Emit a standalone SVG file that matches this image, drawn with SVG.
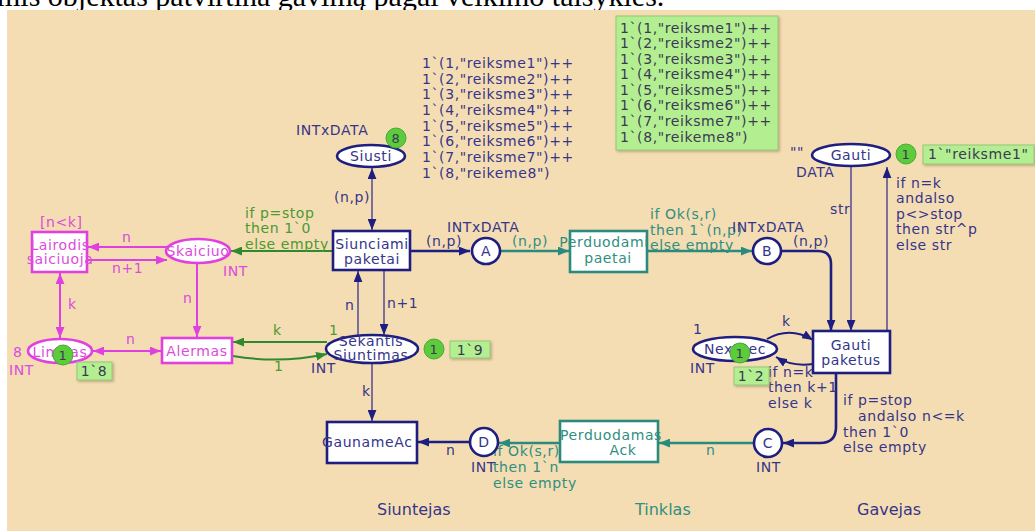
<svg xmlns="http://www.w3.org/2000/svg" width="1035" height="531" viewBox="0 0 1035 531">
<defs>
<style>
.t{font-family:"DejaVu Sans",Verdana,sans-serif;font-size:14px;letter-spacing:0.6px}
.n{fill:#35358a}.tl{fill:#2f8f80}.g{fill:#4a9a30}.m{fill:#dc4cdc}.d{fill:#3a3a55}
.c{text-anchor:middle}
.pn{fill:#fff;stroke:#1e1e80;stroke-width:2.6}
.pt{fill:#fff;stroke:#2a8a7e;stroke-width:2.6}
.pm{fill:#fff;stroke:#e040e0;stroke-width:2.6}
.an{fill:none;stroke:#1e1e80;stroke-width:2.6}
.ap{fill:none;stroke:#7d6d9d;stroke-width:2}
.at{fill:none;stroke:#2a8a7e;stroke-width:2.4}
.ag{fill:none;stroke:#2f8a2f;stroke-width:2}
.am{fill:none;stroke:#e040e0;stroke-width:2}
.tok{fill:#5ccb3c;stroke:#4aa835;stroke-width:1}
.box{fill:#b3ee90;stroke:#94c87a;stroke-width:1}
</style>
<marker id="mN" viewBox="0 0 10 8" refX="10" refY="4" markerWidth="11" markerHeight="9" markerUnits="userSpaceOnUse" orient="auto-start-reverse"><path d="M0,0L10,4L0,8z" fill="#1e1e80"/></marker>
<marker id="mT" viewBox="0 0 10 8" refX="10" refY="4" markerWidth="11" markerHeight="9" markerUnits="userSpaceOnUse" orient="auto-start-reverse"><path d="M0,0L10,4L0,8z" fill="#2a8a7e"/></marker>
<marker id="mG" viewBox="0 0 10 8" refX="10" refY="4" markerWidth="11" markerHeight="9" markerUnits="userSpaceOnUse" orient="auto-start-reverse"><path d="M0,0L10,4L0,8z" fill="#2f8a2f"/></marker>
<marker id="mM" viewBox="0 0 10 8" refX="10" refY="4" markerWidth="11" markerHeight="9" markerUnits="userSpaceOnUse" orient="auto-start-reverse"><path d="M0,0L10,4L0,8z" fill="#e040e0"/></marker>
<filter id="sh" x="-10%" y="-10%" width="130%" height="130%"><feDropShadow dx="1.5" dy="1.5" stdDeviation="1" flood-color="#806a40" flood-opacity="0.45"/></filter>
</defs>
<rect x="0" y="0" width="1035" height="531" fill="#ffffff"/>
<text x="-3" y="6" font-family="Liberation Serif, serif" font-size="30" fill="#000">mis objektas patvirtina gavimą pagal veikimo taisykles.</text>
<rect x="7" y="10" width="1028" height="521" fill="#f5ddb3"/>

<g id="connectors">
<path class="an" d="M410,251H470" marker-end="url(#mN)"/>
<path class="an" d="M782,251H818Q831,251 831,264V331" marker-end="url(#mN)"/>
<path class="an" d="M836,373V427Q836,443 820,443H783" marker-end="url(#mN)"/>
<path class="an" d="M470,442H418" marker-end="url(#mN)"/>
<path class="an" style="stroke-width:2" d="M767,339Q790,326 813,340" marker-end="url(#mN)"/>
<path class="an" style="stroke-width:2" d="M813,364Q792,367 776,357" marker-end="url(#mN)"/>
<path class="ap" d="M372,168V230" marker-start="url(#mN)" marker-end="url(#mN)"/>
<path class="ap" d="M851,167V331" marker-end="url(#mN)"/>
<path class="ap" d="M887,331V167" marker-end="url(#mN)"/>
<path class="ap" d="M358,336V271" marker-end="url(#mN)"/>
<path class="ap" d="M384,270V335" marker-end="url(#mN)"/>
<path class="ap" d="M372,363V421" marker-end="url(#mN)"/>
<path class="at" d="M500,251H569" marker-end="url(#mT)"/>
<path class="at" d="M647,251H752" marker-end="url(#mT)"/>
<path class="at" d="M754,443H659" marker-end="url(#mT)"/>
<path class="at" d="M560,443H499" marker-end="url(#mT)"/>
<path class="ag" d="M333,251H231" marker-end="url(#mG)"/>
<path class="ag" d="M327,342H233" marker-end="url(#mG)"/>
<path class="ag" d="M233,356Q280,364 327,354" marker-end="url(#mG)"/>
<path class="am" d="M167,247H88" marker-end="url(#mM)"/>
<path class="am" d="M88,260H167" marker-end="url(#mM)"/>
<path class="am" d="M60,273V338" marker-start="url(#mM)" marker-end="url(#mM)"/>
<path class="am" d="M197,263V337" marker-end="url(#mM)"/>
<path class="am" d="M93,351H161" marker-start="url(#mM)" marker-end="url(#mM)"/>
<g class="t">
<text class="n" x="334" y="202">(n,p)</text>
<text class="n" x="426" y="246">(n,p)</text>
<text class="n" x="447" y="232">INTxDATA</text>
<text class="tl" x="512" y="246">(n,p)</text>
<text class="tl" x="650" y="219">if Ok(s,r)</text>
<text class="tl" x="650" y="235">then 1`(n,p)</text>
<text class="tl" x="650" y="250">else empty</text>
<text class="n" x="732" y="232">INTxDATA</text>
<text class="n" x="793" y="246">(n,p)</text>
<text class="n" x="830" y="214">str</text>
<text class="n" x="896" y="188">if n=k</text>
<text class="n" x="896" y="203">andalso</text>
<text class="n" x="896" y="219">p&lt;&gt;stop</text>
<text class="n" x="896" y="234">then str^p</text>
<text class="n" x="896" y="250">else str</text>
<text class="n" x="782" y="326">k</text>
<text class="n" x="768" y="377">if n=k</text>
<text class="n" x="768" y="392">then k+1</text>
<text class="n" x="768" y="408">else k</text>
<text class="n" x="843" y="405">if p=stop</text>
<text class="n" x="858" y="421">andalso n&lt;=k</text>
<text class="n" x="843" y="437">then 1`0</text>
<text class="n" x="843" y="452">else empty</text>
<text class="tl" x="706" y="455">n</text>
<text class="tl" x="493" y="456">if Ok(s,r)</text>
<text class="tl" x="493" y="472">then 1`n</text>
<text class="tl" x="493" y="488">else empty</text>
<text class="n" x="446" y="455">n</text>
<text class="n" x="362" y="396">k</text>
<text class="n" x="345" y="310">n</text>
<text class="n" x="387" y="308">n+1</text>
<text class="g" x="273" y="335">k</text>
<text class="g" x="329" y="335">1</text>
<text class="g" x="274" y="371">1</text>
<text class="g" x="245" y="218">if p=stop</text>
<text class="g" x="245" y="233">then 1`0</text>
<text class="g" x="245" y="249">else empty</text>
<text class="m" x="122" y="242">n</text>
<text class="m" x="112" y="273">n+1</text>
<text class="m" x="68" y="309">k</text>
<text class="m" x="183" y="303">n</text>
<text class="m" x="126" y="344">n</text>
</g>
</g>

<g id="marking-siusti" class="t">
<text class="n" x="422" y="68">1`(1,"reiksme1")++</text>
<text class="n" x="422" y="84">1`(2,"reiksme2")++</text>
<text class="n" x="422" y="99">1`(3,"reiksme3")++</text>
<text class="n" x="422" y="115">1`(4,"reiksme4")++</text>
<text class="n" x="422" y="131">1`(5,"reiksme5")++</text>
<text class="n" x="422" y="146">1`(6,"reiksme6")++</text>
<text class="n" x="422" y="162">1`(7,"reiksme7")++</text>
<text class="n" x="422" y="178">1`(8,"reikeme8")</text>
</g>
<g id="marking-box">
<rect class="box" x="616" y="16" width="162" height="134" filter="url(#sh)"/>
<g class="t d">
<text x="620" y="33">1`(1,"reiksme1")++</text>
<text x="620" y="48">1`(2,"reiksme2")++</text>
<text x="620" y="64">1`(3,"reiksme3")++</text>
<text x="620" y="79">1`(4,"reiksme4")++</text>
<text x="620" y="95">1`(5,"reiksme5")++</text>
<text x="620" y="110">1`(6,"reiksme6")++</text>
<text x="620" y="126">1`(7,"reiksme7")++</text>
<text x="620" y="142">1`(8,"reikeme8")</text>
</g>
</g>

<g id="Siusti">
<ellipse class="pn" cx="371" cy="156" rx="34" ry="11"/>
<text class="t n c" x="371" y="161">Siusti</text>
<text class="t n" x="296" y="135">INTxDATA</text>
<circle class="tok" cx="396" cy="138" r="10"/>
<text class="t d c" x="396" y="143" style="font-size:13px">8</text>
</g>
<g id="Siunciami">
<rect class="pn" x="333" y="231" width="77" height="39"/>
<text class="t n c" x="372" y="249">Siunciami</text>
<text class="t n c" x="372" y="264">paketai</text>
</g>
<g id="A">
<ellipse class="pn" cx="486" cy="251" rx="14" ry="13"/>
<text class="t n c" x="486" y="256">A</text>
</g>
<g id="Perduodami">
<rect class="pt" x="570" y="231" width="77" height="41"/>
<text class="t tl c" x="604" y="247">Perduodami</text>
<text class="t tl c" x="608" y="263">paetai</text>
</g>
<g id="B">
<ellipse class="pn" cx="767" cy="251" rx="14" ry="13"/>
<text class="t n c" x="767" y="256">B</text>
</g>
<g id="Gauti">
<ellipse class="pn" cx="851" cy="155" rx="39" ry="11"/>
<text class="t n c" x="851" y="160">Gauti</text>
<text class="t n" x="790" y="157">""</text>
<text class="t n" x="796" y="177">DATA</text>
<circle class="tok" cx="906" cy="154" r="10"/>
<text class="t d c" x="906" y="159" style="font-size:13px">1</text>
<rect class="box" x="923" y="145" width="111" height="19" filter="url(#sh)"/>
<text class="t d" x="928" y="159">1`"reiksme1"</text>
</g>
<g id="GautiPaketus">
<rect class="pn" x="813" y="331" width="77" height="42"/>
<text class="t n c" x="851" y="350">Gauti</text>
<text class="t n c" x="851" y="365">paketus</text>
</g>
<g id="NextRec">
<ellipse class="pn" cx="735" cy="349" rx="42" ry="12"/>
<text class="t n c" x="735" y="354">NextRec</text>
<text class="t n" x="693" y="334">1</text>
<text class="t n" x="690" y="373">INT</text>
<circle class="tok" cx="740" cy="353" r="10"/>
<text class="t d c" x="740" y="358" style="font-size:13px">1</text>
<rect class="box" x="734" y="367" width="35" height="18" filter="url(#sh)"/>
<text class="t d c" x="751" y="381">1`2</text>
</g>
<g id="C">
<circle class="pn" cx="768" cy="443" r="14"/>
<text class="t n c" x="768" y="448">C</text>
<text class="t n" x="756" y="472">INT</text>
</g>
<g id="PerduodamasAck">
<rect class="pt" x="560" y="421" width="98" height="41"/>
<text class="t tl c" x="611" y="440">Perduodamas</text>
<text class="t tl c" x="623" y="455">Ack</text>
</g>
<g id="D">
<circle class="pn" cx="484" cy="442" r="14"/>
<text class="t n c" x="484" y="447">D</text>
<text class="t n" x="471" y="472">INT</text>
</g>
<g id="GaunameAck">
<rect class="pn" x="327" y="422" width="90" height="41"/>
<text class="t n" x="322" y="447">GaunameAc</text>
</g>
<g id="Sekantis">
<ellipse class="pn" cx="372" cy="349" rx="46" ry="14"/>
<text class="t n c" x="371" y="346">Sekantis</text>
<text class="t n c" x="371" y="360">Siuntimas</text>
<text class="t n" x="311" y="373">INT</text>
<circle class="tok" cx="434" cy="349" r="10"/>
<text class="t d c" x="434" y="354" style="font-size:13px">1</text>
<rect class="box" x="450" y="341" width="40" height="17" filter="url(#sh)"/>
<text class="t d c" x="470" y="355">1`9</text>
</g>
<g id="Lairodis">
<rect class="pm" x="32" y="232" width="55" height="40"/>
<text class="t m c" x="60" y="250">Lairodis</text>
<text class="t m c" x="60" y="264">saiciuoja</text>
<text class="t m" x="40" y="227">[n&lt;k]</text>
</g>
<g id="Skaiciuo">
<ellipse class="pm" cx="198" cy="251" rx="32" ry="12"/>
<text class="t m c" x="198" y="256">Skaiciuo</text>
<text class="t m" x="223" y="276">INT</text>
</g>
<g id="Limitas">
<ellipse class="pm" cx="60" cy="351" rx="32" ry="12"/>
<text class="t m c" x="60" y="357">Limitas</text>
<text class="t m" x="13" y="357">8</text>
<text class="t m" x="9" y="375">INT</text>
<circle class="tok" cx="63" cy="355" r="10"/>
<text class="t d c" x="63" y="360" style="font-size:13px">1</text>
<rect class="box" x="77" y="362" width="35" height="18" filter="url(#sh)"/>
<text class="t d c" x="94" y="376">1`8</text>
</g>
<g id="Alermas">
<rect class="pm" x="162" y="338" width="70" height="25"/>
<text class="t m c" x="197" y="356">Alermas</text>
</g>
<g id="pages" class="t" style="font-size:16px;letter-spacing:0">
<text class="n" x="377" y="515">Siuntejas</text>
<text class="tl" x="635" y="515">Tinklas</text>
<text class="n" x="857" y="515">Gavejas</text>
</g>
</svg>
